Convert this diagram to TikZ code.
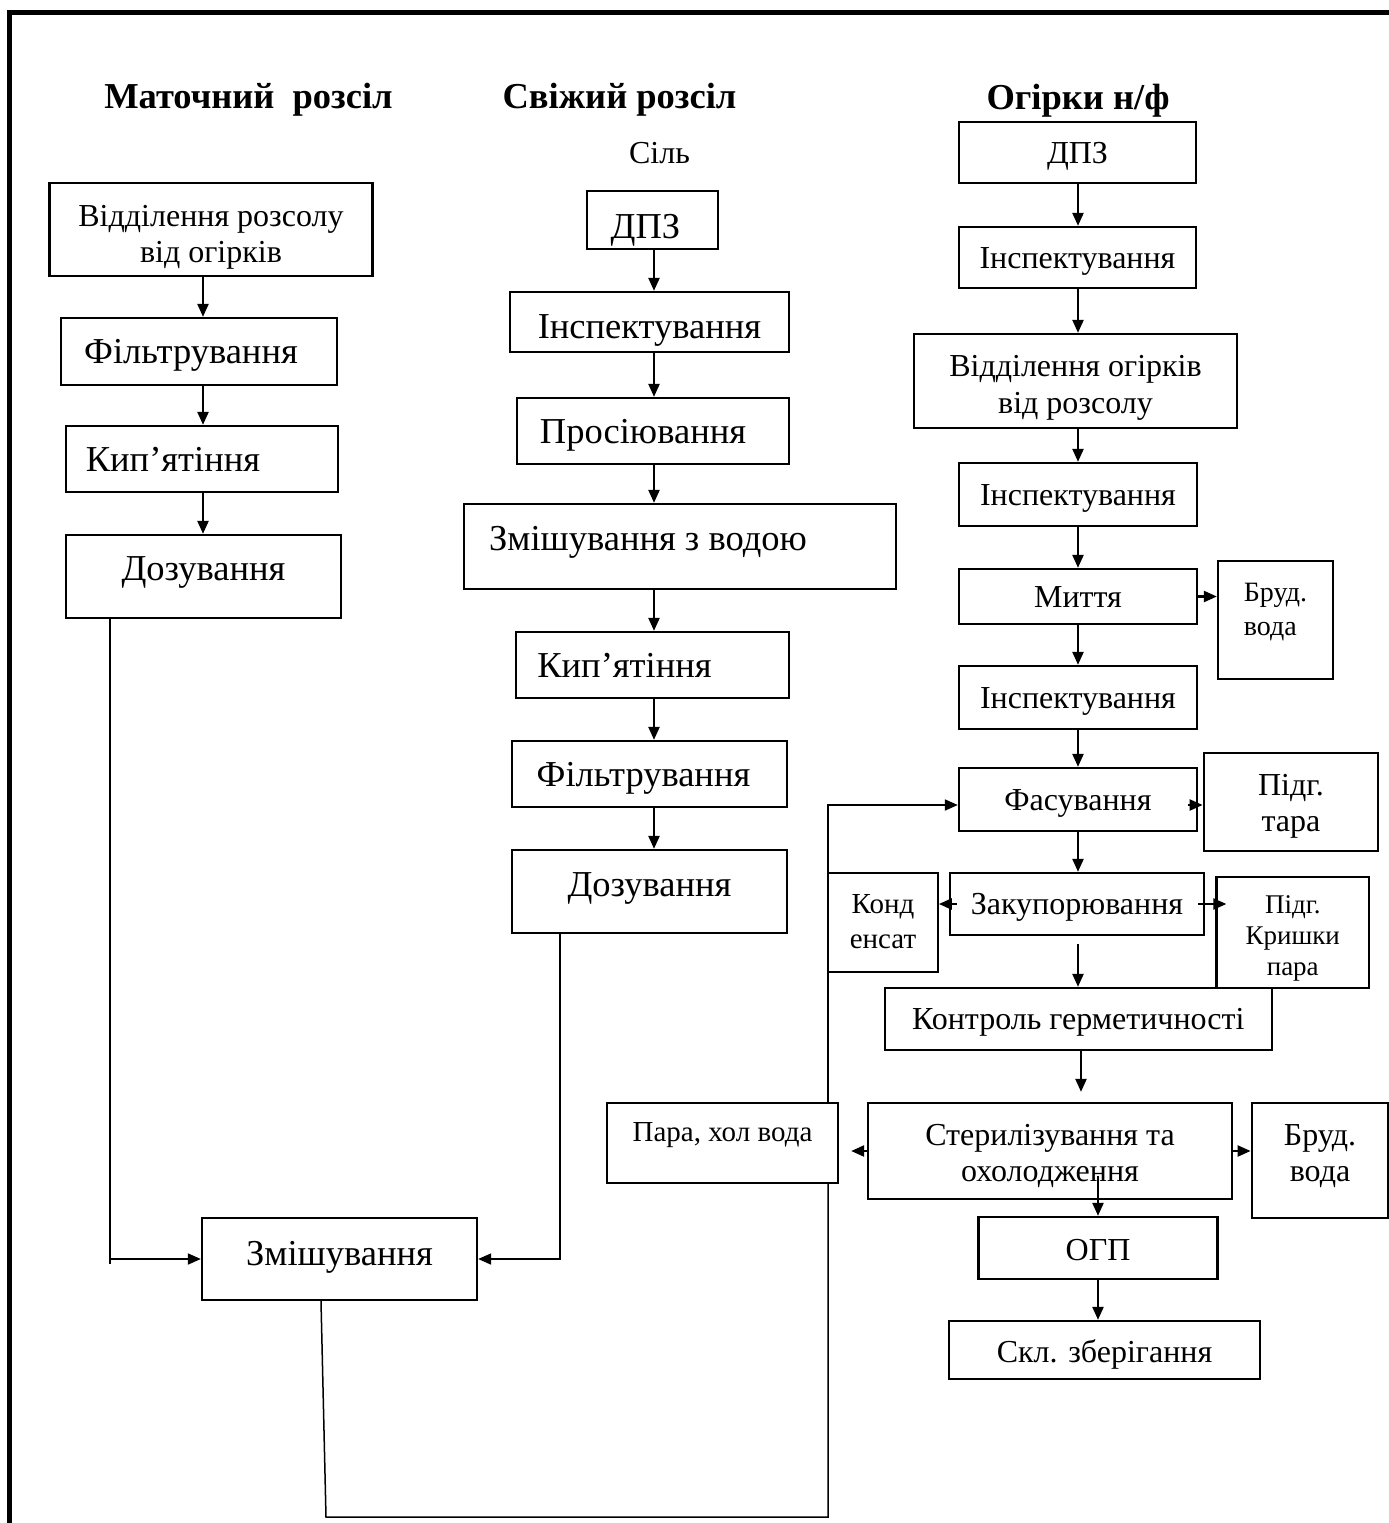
\documentclass[tikz,border=0pt]{standalone}
\usepackage{fontspec}
\setmainfont{Liberation Serif}
\usetikzlibrary{arrows.meta}
\newcommand\rse[2]{\raisebox{#1}[\height][\depth]{#2}}
\newcommand\mlc[2]{\raisebox{#1}[\height][\depth]{\begin{tabular}{@{}c@{}}#2\end{tabular}}}
\newcommand\mll[2]{\raisebox{#1}[\height][\depth]{\begin{tabular}{@{}l@{}}#2\end{tabular}}}
\begin{document}
\begin{tikzpicture}[x=1pt,y=-1pt,
  box/.style={draw, line width=2.3pt, fill=white, inner sep=0pt, align=center},
  wh/.style 2 args={minimum width=#1pt, minimum height=#2pt},
  F37/.style={font=\fontsize{36.5}{42}\selectfont, text height=24pt, text depth=0pt},
  F32/.style={font=\fontsize{32}{36.5}\selectfont, text height=21.2pt, text depth=0pt},
  F29/.style={font=\fontsize{29}{35}\selectfont, text height=19.2pt, text depth=0pt},
  M32/.style={font=\fontsize{32}{36.5}\selectfont},
  M29/.style={font=\fontsize{29}{35}\selectfont},
  M28/.style={font=\fontsize{28}{34}\selectfont},
  M27/.style={font=\fontsize{27}{31}\selectfont},
  ttl/.style={font=\bfseries\fontsize{36.5}{42}\selectfont, anchor=base, inner sep=0pt},
  arr/.style={line width=2.3pt, -{Triangle[length=13pt,width=11pt]}},
  conn/.style={line width=1.5pt},
  connarr/.style={line width=1.8pt, -{Triangle[length=13pt,width=11pt]}},
  frame/.style={line width=5pt}]
\useasboundingbox (0,0) rectangle (1389,1523);
\draw[frame] (9.5,1523) -- (9.5,12) -- (1389,12);

% titles
\node[ttl] (h1) at (248.5,108) {Маточний\ \ розсіл};
\node[ttl] (h2) at (619.5,108) {Свіжий розсіл};
\node[ttl] (h3) at (1078,109) {Огірки н/ф};
\node[M32, anchor=base, inner sep=0pt] (sil) at (659.5,163) {Сіль};

% column 1
\node[box,M32,wh={323}{93}] (a1) at (211,229.5) {\mlc{-7.5pt}{Відділення розсолу\\від огірків}};
\node[box,F37,wh={276}{67}] (a2) at (199,351.5) {Фільтрування\hspace*{16pt}};
\node[box,F37,wh={272}{66}] (a3) at (202,459) {Кип’ятіння\hspace*{58pt}};
\node[box,F37,wh={275}{83}] (a4) at (203.5,576.5) {\rse{8pt}{Дозування}};

% column 2
\node[box,F37,wh={131}{58}] (b0) at (652.5,220) {\rse{-6pt}{ДПЗ}\hspace*{14pt}};
\node[box,F37,wh={279}{60}] (b1) at (649.5,322) {\rse{-4pt}{Інспектування}};
\node[box,F37,wh={272}{66}] (b2) at (653,431) {Просіювання\hspace*{20pt}};
\node[box,F37,wh={432}{85}] (b3) at (680,546.5) {\rse{8.5pt}{Змішування з водою}\hspace*{64pt}};
\node[box,F37,wh={273}{66}] (b4) at (652.5,665) {Кип’ятіння\hspace*{56pt}};
\node[box,F37,wh={275}{66}] (b5) at (649.5,774) {Фільтрування\hspace*{12pt}};
\node[box,F37,wh={275}{83}] (b6) at (649.5,891.5) {\rse{7pt}{Дозування}};

% column 3
\node[box,F32,wh={237}{61}] (c0) at (1077.5,152.5) {ДПЗ};
\node[box,F32,wh={237}{61}] (c1) at (1077.5,257.5) {Інспектування};
\node[box,M32,wh={323}{94}] (c2) at (1075.5,381) {\mlc{-6.5pt}{Відділення огірків\\від розсолу}};
\node[box,F32,wh={238}{63}] (c3) at (1078,494.5) {Інспектування};
\node[box,F32,wh={238}{55}] (c4) at (1078,596.5) {Миття};
\node[box,F32,wh={238}{63}] (c5) at (1078,697.5) {Інспектування};
\node[box,F32,wh={238}{63}] (c6) at (1078,799.5) {Фасування};
\node[box,F32,wh={254}{62}] (c7) at (1077,904) {Закупорювання};
\node[box,F32,wh={387}{62}] (c8) at (1078.3,1019) {Контроль герметичності};
\node[box,M32,wh={364}{96}] (c9) at (1050,1151) {\mlc{-5pt}{Стерилізування та\\охолодження}};
\node[box,F32,wh={239}{62}] (c10) at (1098,1248) {\rse{-1.5pt}{ОГП}};
\node[box,F32,wh={311}{58}] (c11) at (1104.5,1350) {\rse{-2pt}{Скл. зберігання}};

% side boxes
\node[box,M28,wh={115}{118}] (d1) at (1275.5,620) {\mll{8pt}{Бруд.\\вода}};
\node[box,M32,wh={174.5}{98}] (d2) at (1291,802) {\mlc{-4pt}{Підг.\\тара}};
\node[box,M29,wh={109.5}{99}] (d3) at (883,922.5) {\mlc{-1.3pt}{Конд\\енсат}};
\node[box,M27,wh={152.5}{111}] (d4) at (1292.75,932.5) {\mlc{-5.6pt}{Підг.\\Кришки\\пара}};
\node[box,F29,wh={231}{80}] (d5) at (722.5,1143) {\rse{11pt}{Пара, хол вода}};
\node[box,M32,wh={136.5}{115}] (d6) at (1320,1160.5) {\mlc{4.5pt}{Бруд.\\вода}};

\node[box,F37,wh={275}{82}] (e) at (339.5,1259) {\rse{6pt}{Змішування}};

% helper coordinates
\coordinate (x1) at (203,0);
\coordinate (x2) at (654,0);
\coordinate (x3) at (1078,0);
\coordinate (x81) at (1081,0);
\coordinate (y805) at (0,805);

% column 1 arrows
\draw[arr] (a1.south -| x1) -- (a2.north -| x1);
\draw[arr] (a2.south -| x1) -- (a3.north -| x1);
\draw[arr] (a3.south -| x1) -- (a4.north -| x1);

% column 2 arrows
\draw[arr] (b0.south -| x2) -- (b1.north -| x2);
\draw[arr] (b1.south -| x2) -- (b2.north -| x2);
\draw[arr] (b2.south -| x2) -- (b3.north -| x2);
\draw[arr] (b3.south -| x2) -- (b4.north -| x2);
\draw[arr] (b4.south -| x2) -- (b5.north -| x2);
\draw[arr] (b5.south -| x2) -- (b6.north -| x2);

% column 3 arrows
\draw[arr] (c0.south -| x3) -- (c1.north -| x3);
\draw[arr] (c1.south -| x3) -- (c2.north -| x3);
\draw[arr] (c2.south -| x3) -- (c3.north -| x3);
\draw[arr] (c3.south -| x3) -- (c4.north -| x3);
\draw[arr] (c4.south -| x3) -- (c5.north -| x3);
\draw[arr] (c5.south -| x3) -- (c6.north -| x3);
\draw[arr] (c6.south -| x3) -- (c7.north -| x3);
\draw[arr] ([yshift=-8pt]c7.south -| x3) -- (c8.north -| x3);
\draw[arr] (c8.south -| x81) -- ([yshift=10pt]c9.north -| x81);
\draw[arr] ([yshift=24pt]c9.south -| c10.north) -- (c10.north);
\draw[arr] (c10.south) -- (c11.north -| c10.south);

% side arrows
\draw[arr] (c4.east) -- (d1.west |- c4.east);
\draw[arr] ([xshift=-10pt]c6.east |- y805) -- (d2.west |- y805);
\draw[arr] ([xshift=8pt]c7.west) -- (d3.east |- c7.west);
\draw[arr] ([xshift=-7pt]c7.east) -- ([xshift=11pt]d4.west |- c7.east);
\draw[arr] (c9.east) -- (d6.west |- c9.east);
\draw[arr] (c9.west) -- ([xshift=12pt]d5.east |- c9.west);

% long connectors
\coordinate (j1) at (110,1264);
\coordinate (j2) at (560,1260);
\draw[conn] (a4.south -| j1) -- (j1);
\draw[connarr] (e.west -| j1) -- (e.west);
\draw[conn] (b6.south -| j2) -- (j2);
\draw[connarr] (e.east -| j2) -- (e.east);

\coordinate (k1) at (326,1517);
\coordinate (k2) at (828,1517);
\coordinate (k3) at (828,805);
\draw[conn] ([xshift=-18.5pt]e.south) -- (k1) -- (k2) -- (k2 |- d5.south);
\draw[connarr] (k3 |- d5.north) -- (k3) -- (c6.west |- k3);
\end{tikzpicture}
\end{document}
